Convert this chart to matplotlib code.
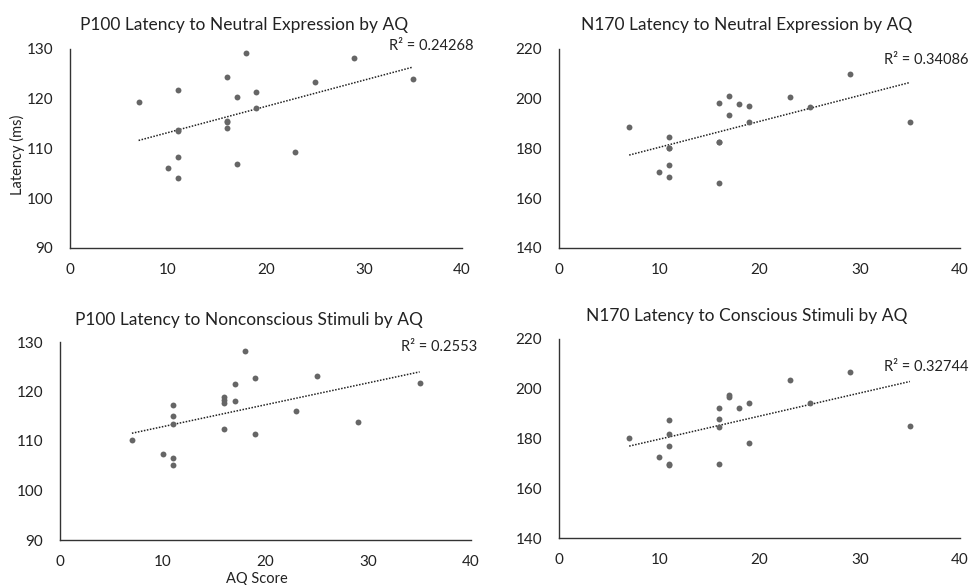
import matplotlib.pyplot as plt
import numpy as np

# AQ scores (same 20 participants in every panel)
aq = [7, 10, 11, 11, 11, 11, 11, 16, 16, 16, 16, 17, 17, 18, 19, 19, 23, 25, 29, 35]

p100_neutral = [119.4, 106.1, 121.8, 113.7, 113.5, 108.2, 104.1, 124.3, 115.6, 115.3, 114.1,
                120.4, 106.9, 129.2, 121.3, 118.1, 109.3, 123.3, 128.1, 124.0]
n170_neutral = [188.6, 170.4, 184.8, 180.1, 180.0, 173.4, 168.5, 198.1, 182.8, 166.2, 182.6,
                201.0, 193.6, 197.7, 197.1, 190.6, 200.7, 196.6, 210.1, 190.6]
p100_noncon = [110.2, 107.3, 117.2, 115.1, 113.5, 106.5, 105.2, 118.8, 118.3, 117.7, 112.5,
               121.5, 118.0, 128.2, 122.8, 111.4, 116.0, 123.2, 113.8, 121.8]
n170_con = [180.3, 172.6, 187.6, 181.9, 176.8, 169.8, 169.4, 192.4, 187.9, 184.8, 169.7,
            197.3, 196.8, 192.4, 194.4, 178.3, 203.7, 194.3, 206.9, 185.2]

titles = ["P100 Latency to Neutral Expression by AQ",
          "N170 Latency to Neutral Expression by AQ",
          "P100 Latency to Nonconscious Stimuli by AQ",
          "N170 Latency to Conscious Stimuli by AQ"]
r2_labels = ["R² = 0.24268", "R² = 0.34086", "R² = 0.2553", "R² = 0.32744"]

plt.rcParams['font.family'] = ['Lato', 'DejaVu Sans']

fig = plt.figure(figsize=(9.71, 5.85), dpi=100)
W, H = 971, 585

# axes boxes in pixels: left, top, right, bottom
boxes = [(70, 49, 462, 248), (559, 49, 960, 248),
         (60, 342, 471, 540), (559, 339, 960, 538)]
series = [p100_neutral, n170_neutral, p100_noncon, n170_con]
ylims = [(90, 130), (140, 220), (90, 130), (140, 220)]
yticks = [np.arange(90, 131, 10), np.arange(140, 221, 20),
          np.arange(90, 131, 10), np.arange(140, 221, 20)]
r2_pos = [(1.03, 1.015), (1.02, 0.945), (1.015, 0.976), (1.02, 0.86)]
title_x = [0.444, 0.469, 0.459, 0.469]
title_pad = [14, 14, 12, 13]

for i in range(4):
    l, t, r, b = boxes[i]
    ax = fig.add_axes([l / W, 1 - b / H, (r - l) / W, (b - t) / H])
    y = series[i]
    ax.scatter(aq, y, s=18, color='#666666', zorder=3, linewidths=0)

    # linear trendline
    slope, intercept = np.polyfit(aq, y, 1)
    xs = np.array([min(aq), max(aq)])
    ax.plot(xs, slope * xs + intercept, color='#222222', linestyle=(0, (1, 1)),
            linewidth=1.1, zorder=2)

    ax.set_xlim(0, 40)
    ax.set_ylim(*ylims[i])
    ax.set_xticks([0, 10, 20, 30, 40])
    ax.set_yticks(yticks[i])
    ax.tick_params(length=0, labelsize=11, colors='#222222')
    ax.tick_params(axis='x', pad=11)
    ax.tick_params(axis='y', pad=12)
    for side in ['top', 'right']:
        ax.spines[side].set_visible(False)
    for side in ['left', 'bottom']:
        ax.spines[side].set_color('#333333')
        ax.spines[side].set_linewidth(1.0)

    ax.set_title(titles[i], fontsize=12.5, color='#222222', pad=title_pad[i], x=title_x[i])
    ax.text(r2_pos[i][0], r2_pos[i][1], r2_labels[i], transform=ax.transAxes,
            ha='right', va='center', fontsize=10.5, color='#222222', clip_on=False)

    if i == 0:
        ax.set_ylabel("Latency (ms)", fontsize=10.5, color='#222222')
        ax.yaxis.set_label_coords(-0.115, 0.47)
    if i == 2:
        ax.set_xlabel("AQ Score", fontsize=10.5, color='#222222')
        ax.xaxis.set_label_coords(0.48, -0.16)

fig.savefig("out.png", dpi=100, facecolor='white')
